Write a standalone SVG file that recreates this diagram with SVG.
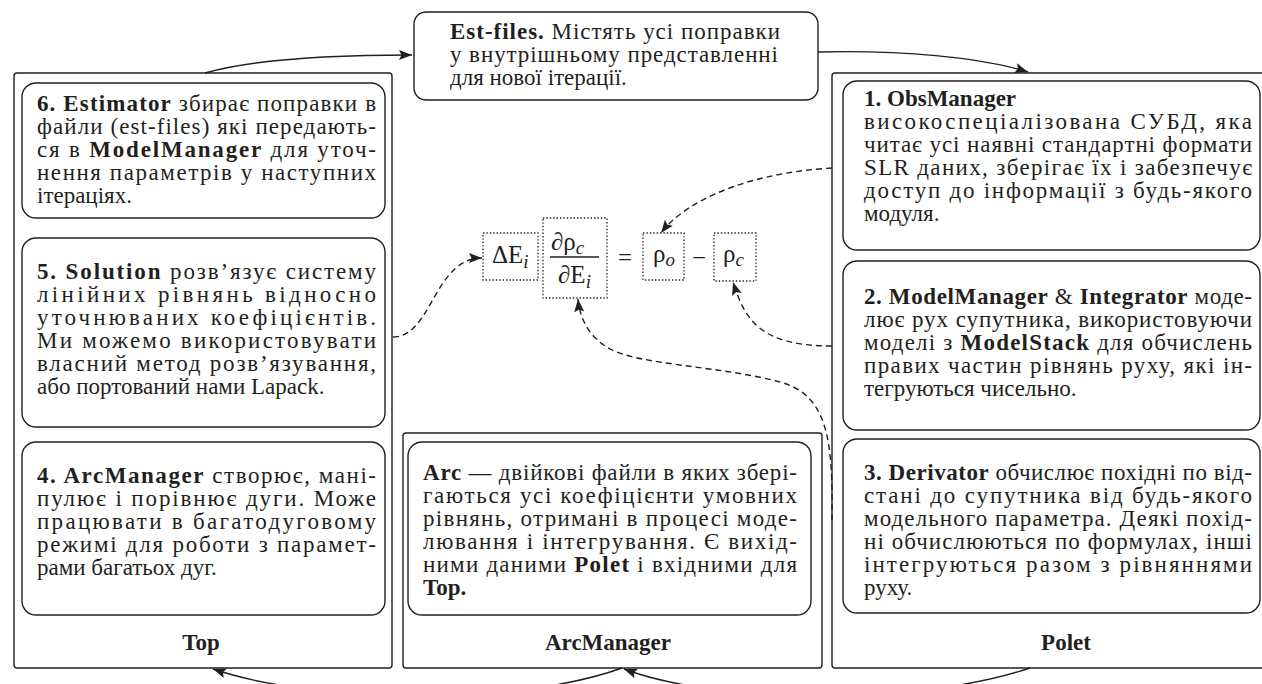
<svg xmlns="http://www.w3.org/2000/svg" width="1262" height="684" viewBox="0 0 1262 684">
<style>
.t{font-family:"Liberation Serif","Times New Roman",serif;font-size:23px;fill:#231f20}
.b{font-weight:bold}
.m{font-family:"Liberation Serif","Times New Roman",serif;font-size:25px;fill:#231f20}
.it{font-style:italic}
.frame{fill:#fff;stroke:#231f20;stroke-width:1.4}
.inner{fill:none;stroke:#231f20;stroke-width:1.4}
.dot{fill:none;stroke:#231f20;stroke-width:1.3;stroke-dasharray:1.4 2}
.dash{fill:none;stroke:#231f20;stroke-width:1.4;stroke-dasharray:6 4}
.conn{fill:none;stroke:#231f20;stroke-width:1.4}
</style>
<defs>
<marker id="arr" markerUnits="userSpaceOnUse" markerWidth="14" markerHeight="12" refX="13" refY="5" orient="auto">
<path d="M0,0 L13,5 L0,10 L2.5,5 z" fill="#231f20"/>
</marker>
</defs>
<rect width="1262" height="684" fill="#fff"/>

<g id="top">
<rect class="frame" x="14" y="73" width="378" height="595" rx="3"/>
<text class="t b" x="201" y="650" text-anchor="middle">Top</text>
</g>
<g id="estimator">
<rect class="inner" x="22" y="83" width="363" height="135" rx="14"/>
<text class="t" x="37" y="111" textLength="339"><tspan class="b">6. Estimator</tspan> збирає поправки в</text>
<text class="t" x="37" y="134" textLength="339">файли (est-files) які передають-</text>
<text class="t" x="37" y="157" textLength="339">ся в <tspan class="b">ModelManager</tspan> для уточ-</text>
<text class="t" x="37" y="180" textLength="339">нення параметрів у наступних</text>
<text class="t" x="37" y="203">ітераціях.</text>
</g>
<g id="solution">
<rect class="inner" x="22" y="238" width="363" height="189" rx="14"/>
<text class="t" x="37" y="279" textLength="339"><tspan class="b">5. Solution</tspan> розв’язує систему</text>
<text class="t" x="37" y="302" textLength="339">лінійних рівнянь відносно</text>
<text class="t" x="37" y="325" textLength="339">уточнюваних коефіцієнтів.</text>
<text class="t" x="37" y="348" textLength="339">Ми можемо використовувати</text>
<text class="t" x="37" y="371" textLength="339">власний метод розв’язування,</text>
<text class="t" x="37" y="394">або портований нами Lapack.</text>
</g>
<g id="arcmanager4">
<rect class="inner" x="22" y="442" width="363" height="173" rx="14"/>
<text class="t" x="37" y="483" textLength="339"><tspan class="b">4. ArcManager</tspan> створює, мані-</text>
<text class="t" x="37" y="506" textLength="339">пулює і порівнює дуги. Може</text>
<text class="t" x="37" y="529" textLength="339">працювати в багатодуговому</text>
<text class="t" x="37" y="552" textLength="339">режимі для роботи з парамет-</text>
<text class="t" x="37" y="575">рами багатьох дуг.</text>
</g>

<g id="arcmanager">
<rect class="frame" x="403" y="433" width="419" height="235" rx="3"/>
<text class="t b" x="608" y="650" text-anchor="middle">ArcManager</text>
</g>
<g id="arc">
<rect class="inner" x="408" y="442" width="403" height="173" rx="14"/>
<text class="t" x="423" y="480" textLength="374"><tspan class="b">Arc</tspan> — двійкові файли в яких збері-</text>
<text class="t" x="423" y="503" textLength="374">гаються усі коефіцієнти умовних</text>
<text class="t" x="423" y="526" textLength="374">рівнянь, отримані в процесі моде-</text>
<text class="t" x="423" y="549" textLength="374">лювання і інтегрування. Є вихід-</text>
<text class="t" x="423" y="572" textLength="374">ними даними <tspan class="b">Polet</tspan> і вхідними для</text>
<text class="t b" x="423" y="595">Top.</text>
</g>

<g id="polet">
<rect class="frame" x="832" y="73" width="450" height="595" rx="3"/>
<text class="t b" x="1066" y="650" text-anchor="middle">Polet</text>
</g>
<g id="obsmanager">
<rect class="inner" x="843" y="81" width="417" height="169" rx="14"/>
<text class="t b" x="864" y="106">1. ObsManager</text>
<text class="t" x="864" y="129" textLength="388">високоспеціалізована СУБД, яка</text>
<text class="t" x="864" y="152" textLength="388">читає усі наявні стандартні формати</text>
<text class="t" x="864" y="175" textLength="388">SLR даних, зберігає їх і забезпечує</text>
<text class="t" x="864" y="198" textLength="388">доступ до інформації з будь-якого</text>
<text class="t" x="864" y="221">модуля.</text>
</g>
<g id="modelmanager">
<rect class="inner" x="843" y="261" width="417" height="169" rx="14"/>
<text class="t" x="864" y="304" textLength="388"><tspan class="b">2. ModelManager</tspan> &amp; <tspan class="b">Integrator</tspan> моде-</text>
<text class="t" x="864" y="327" textLength="388">лює рух супутника, використовуючи</text>
<text class="t" x="864" y="350" textLength="388">моделі з <tspan class="b">ModelStack</tspan> для обчислень</text>
<text class="t" x="864" y="373" textLength="388">правих частин рівнянь руху, які ін-</text>
<text class="t" x="864" y="396">тегруються чисельно.</text>
</g>
<g id="derivator">
<rect class="inner" x="843" y="439" width="417" height="174" rx="14"/>
<text class="t" x="864" y="480" textLength="388"><tspan class="b">3. Derivator</tspan> обчислює похідні по від-</text>
<text class="t" x="864" y="503" textLength="388">стані до супутника від будь-якого</text>
<text class="t" x="864" y="526" textLength="388">модельного параметра. Деякі похід-</text>
<text class="t" x="864" y="549" textLength="388">ні обчислюються по формулах, інші</text>
<text class="t" x="864" y="572" textLength="388">інтегруються разом з рівняннями</text>
<text class="t" x="864" y="595">руху.</text>
</g>

<g id="estfiles">
<rect class="frame" x="414" y="12" width="404" height="88" rx="12"/>
<text class="t" x="450" y="39" textLength="330"><tspan class="b">Est-files.</tspan>  Містять усі поправки</text>
<text class="t" x="450" y="62" textLength="328">у внутрішньому представленні</text>
<text class="t" x="450" y="85">для нової ітерації.</text>
</g>

<g id="equation">
<rect class="dot" x="483" y="233" width="55" height="47"/>
<text class="m" x="492" y="263">ΔE<tspan class="it" font-size="19" dy="5">i</tspan></text>
<rect class="dot" x="543" y="218" width="64" height="80"/>
<text class="m" x="551" y="250">∂ρ<tspan class="it" font-size="19" dy="4">c</tspan></text>
<line x1="550" y1="257" x2="599" y2="257" stroke="#231f20" stroke-width="1.3"/>
<text class="m" x="558" y="283">∂E<tspan class="it" font-size="19" dy="5">i</tspan></text>
<text class="m" x="625" y="266" text-anchor="middle">=</text>
<rect class="dot" x="643" y="233" width="41" height="47"/>
<text class="m" x="653" y="262">ρ<tspan class="it" font-size="19" dy="4">o</tspan></text>
<text class="m" x="699" y="266" text-anchor="middle">−</text>
<rect class="dot" x="714" y="233" width="42" height="48"/>
<text class="m" x="723" y="262">ρ<tspan class="it" font-size="19" dy="4">c</tspan></text>
</g>

<g id="connectors">
<path class="conn" d="M205,73 C250,60 320,55 412,55" marker-end="url(#arr)"/>
<path class="conn" d="M818,52 C900,50 980,57 1028,72" marker-end="url(#arr)"/>
<path class="conn" d="M1030,668 C920,705 720,705 624,669" marker-end="url(#arr)"/>
<path class="conn" d="M622,668 C520,705 320,705 213,669" marker-end="url(#arr)"/>
<path class="dash" d="M393,337 C432,337 434,258 482,258" marker-end="url(#arr)"/>
<path class="dash" d="M832,168 C760,172 690,195 661,233" marker-end="url(#arr)"/>
<path class="dash" d="M832,346 C760,346 745,320 733,282" marker-end="url(#arr)"/>
<path class="dash" d="M832,520 C833,440 828,395 780,382 C720,366 640,365 610,349 C590,338 580,320 578,299" marker-end="url(#arr)"/>
</g>
</svg>
